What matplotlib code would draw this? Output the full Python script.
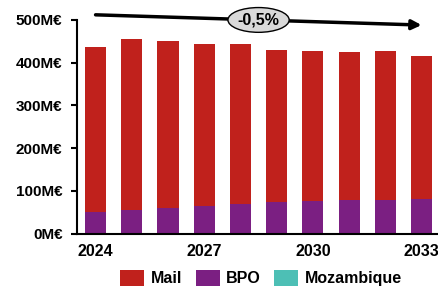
import numpy as np
import matplotlib.pyplot as plt
from matplotlib.patches import Ellipse

plt.rcParams['font.family'] = ['Liberation Sans', 'DejaVu Sans']
plt.rcParams['font.weight'] = 'bold'

# Valeurs (M€)
annees = [2024, 2025, 2026, 2027, 2028, 2029, 2030, 2031, 2032, 2033]
total = [437, 456, 451, 444, 444, 430, 427, 424, 427, 416]
bpo = [51, 54, 59, 63, 66, 71, 74, 76, 76, 78]
mozambique = [0, 0, 0, 2, 2, 2, 2, 2, 2, 2]
mail = [t - b - m for t, b, m in zip(total, bpo, mozambique)]
cagr = "-0,5%"

c_mail = "#c0211c"
c_bpo = "#7b1f82"
c_moz = "#4dbfb5"

fig = plt.figure(figsize=(4.38, 2.89), dpi=100)
ax = fig.add_axes([0.176, 0.192, 0.822, 0.739])

x = np.arange(len(annees))
w = 0.58
ax.bar(x, mozambique, w, color=c_moz, label="Mozambique")
ax.bar(x, bpo, w, bottom=mozambique, color=c_bpo, label="BPO")
base = [b + m for b, m in zip(bpo, mozambique)]
ax.bar(x, mail, w, bottom=base, color=c_mail, label="Mail")

ax.set_xlim(-0.51, 9.43)
ax.set_ylim(0, 500)
ax.set_yticks(range(0, 501, 100))
ax.set_yticklabels([f"{v}M€" for v in range(0, 501, 100)], fontsize=11, fontweight='bold')
ax.set_xticks(x[::3])
ax.set_xticklabels([str(a) for a in annees[::3]], fontsize=11.5, fontweight='bold')
ax.tick_params(axis='x', length=0, pad=7.5)
ax.tick_params(axis='y', length=4.5, width=1.5, pad=6)
for s in ['top', 'right']:
    ax.spines[s].set_visible(False)
ax.spines['left'].set_linewidth(1.5)
ax.spines['bottom'].set_linewidth(1.5)

# flèche de tendance
ax.annotate("", xy=(9.0, 488), xytext=(0.0, 512),
            arrowprops=dict(arrowstyle="-|>", color="black", lw=2.5,
                            mutation_scale=14, shrinkA=0, shrinkB=0),
            annotation_clip=False)
ell = Ellipse((4.5, 500), 1.69, 58, facecolor="#d9d9d9", edgecolor="black",
              lw=1.0, clip_on=False, zorder=5)
ax.add_patch(ell)
ax.text(4.5, 500, cagr, ha='center', va='center', fontsize=11.5,
        fontweight='bold', zorder=6)

h, l = ax.get_legend_handles_labels()
fig.legend(h[::-1], l[::-1], loc='center', bbox_to_anchor=(0.596, 0.038), ncol=3,
           frameon=False, fontsize=11.5, handlelength=1.5, handleheight=1.2,
           columnspacing=0.85, handletextpad=0.4)

fig.savefig("out.png", dpi=100)
